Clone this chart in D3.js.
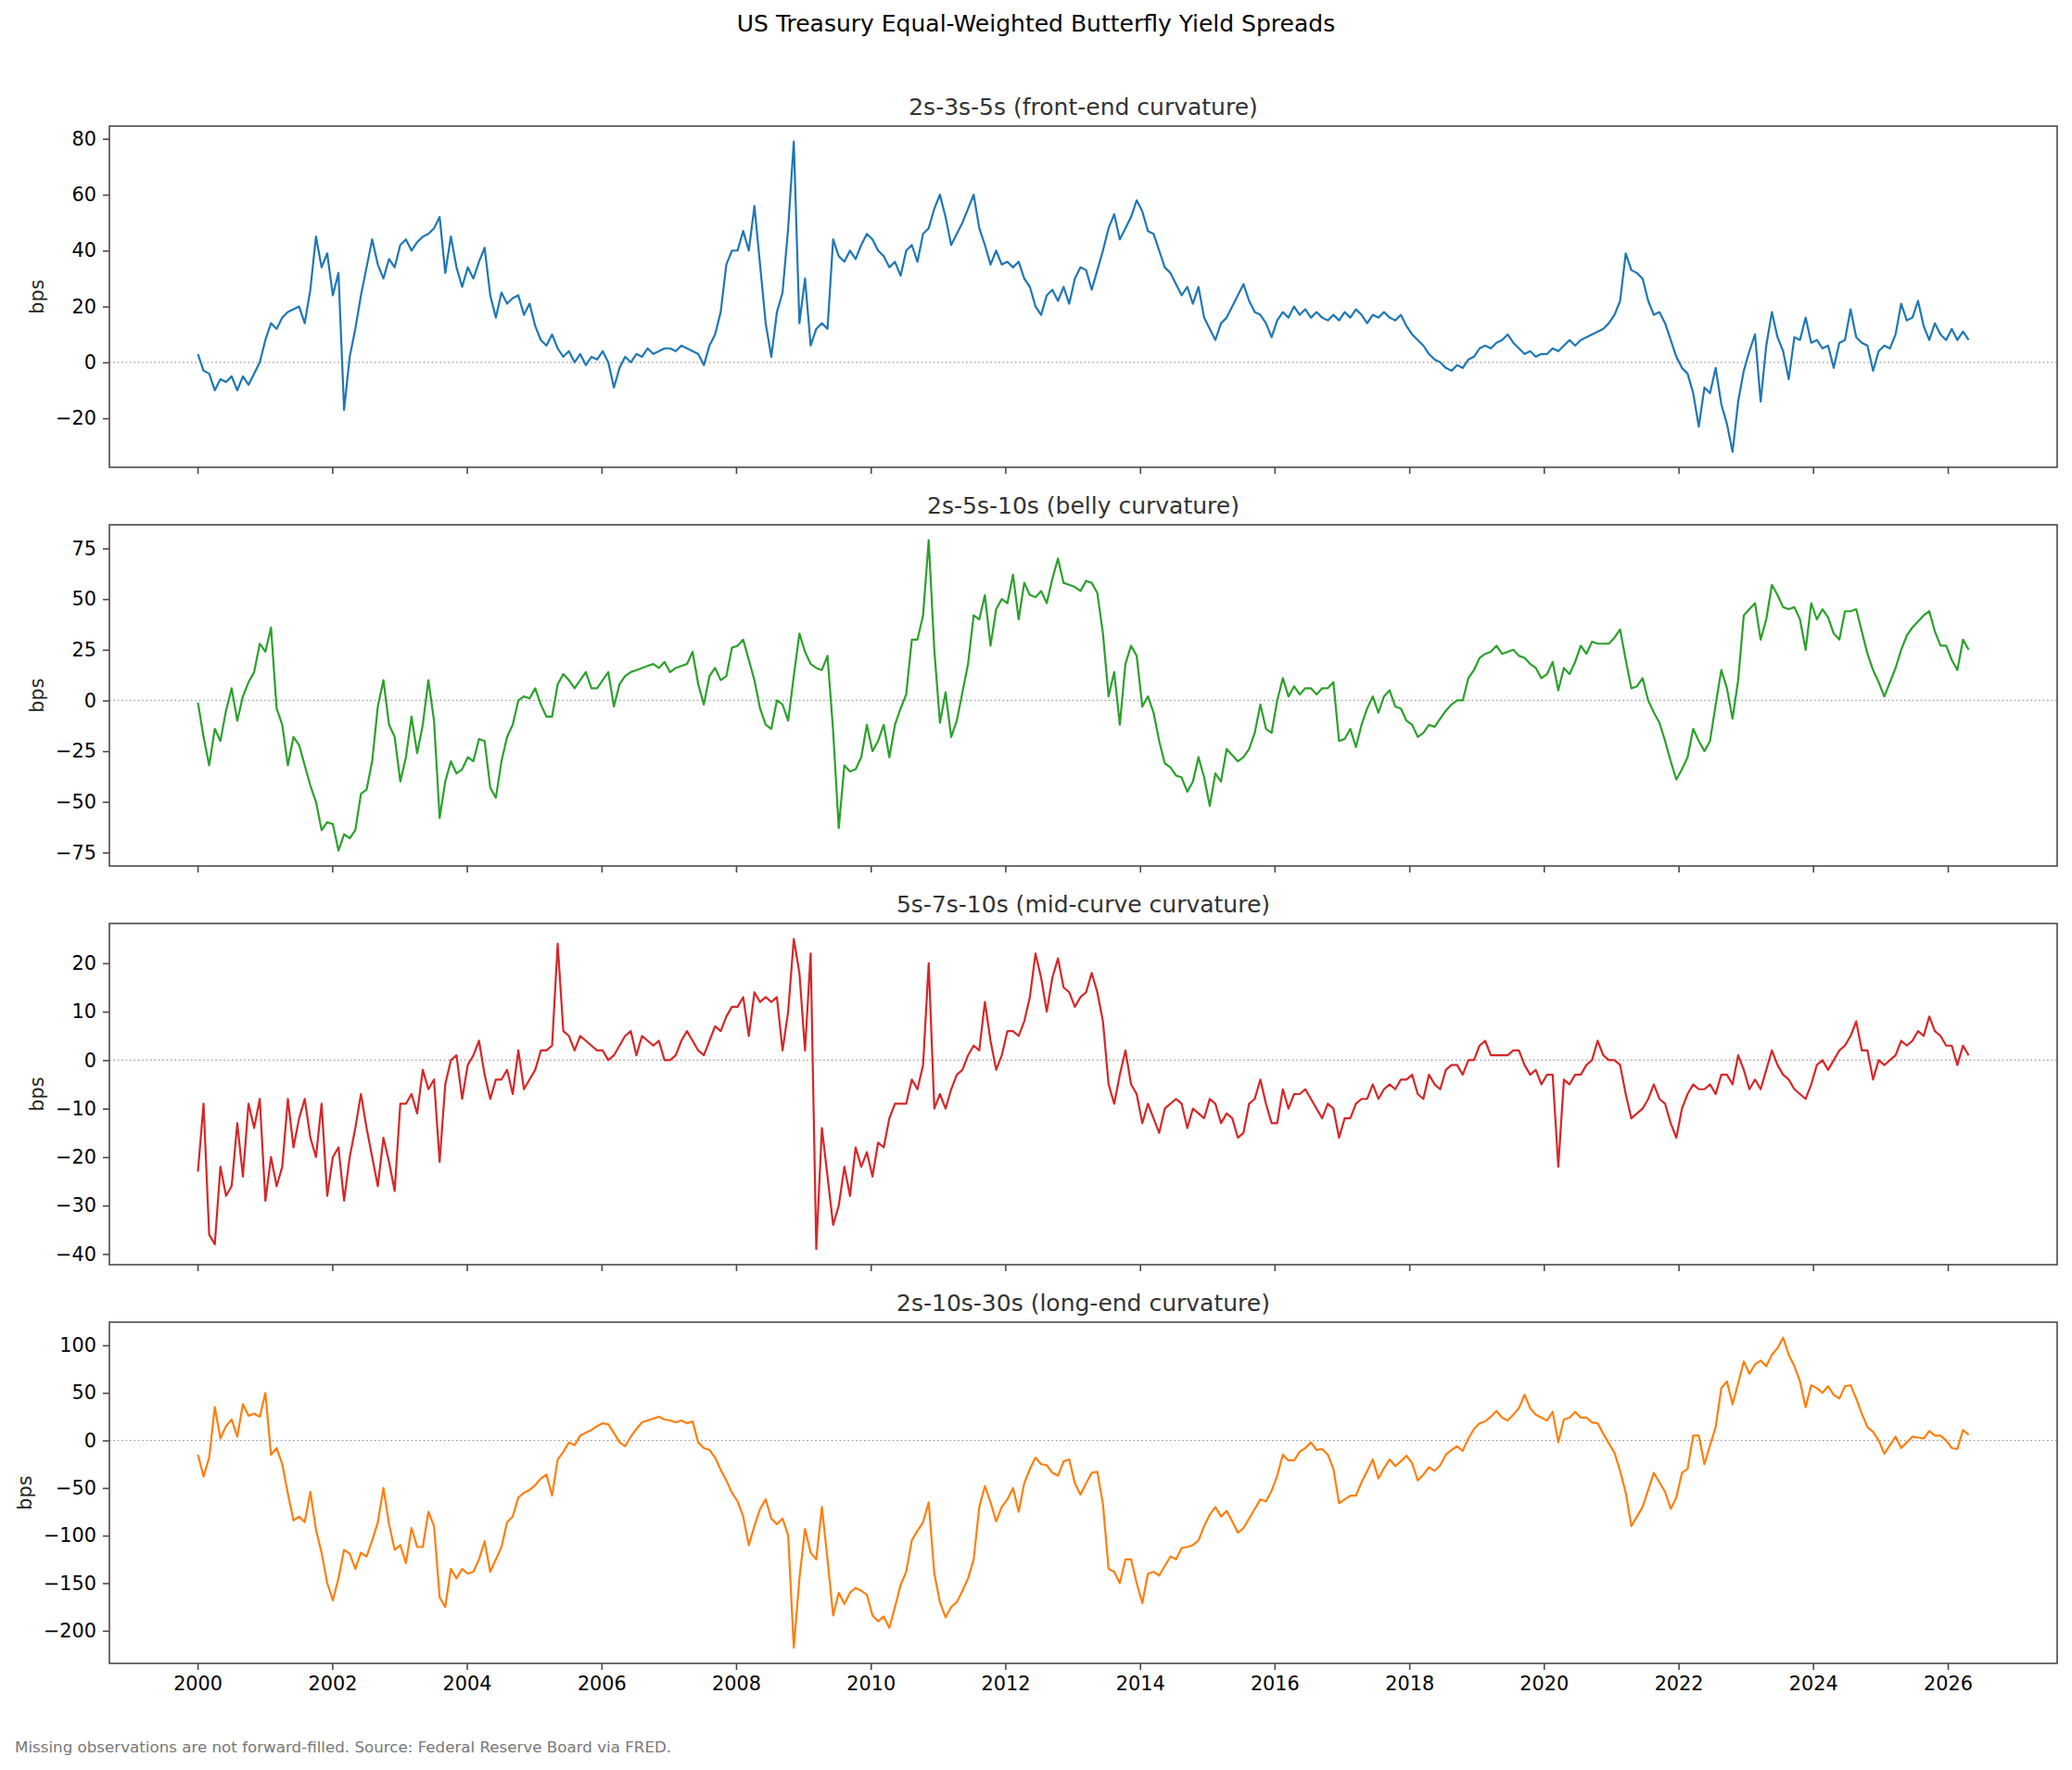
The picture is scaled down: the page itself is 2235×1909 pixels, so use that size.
<!DOCTYPE html>
<html>
<head>
<meta charset="utf-8">
<script src="https://cdn.jsdelivr.net/npm/d3@7"></script>
<style>
  html, body { margin: 0; padding: 0; background: #ffffff; }
  svg { display: block; }
  text { font-family: "DejaVu Sans", "Liberation Sans", sans-serif; }
</style>
</head>
<body>
<svg id="chart" width="2235" height="1909"></svg>
<script>
// ---------------- DATA (monthly readings, Jan 2000 .. Apr 2026, bps) ----------------
const dataStart = new Date(2000, 0, 3);
const dataEnd = new Date(2026, 3, 24);

const frontEnd = [
  3, -3, -4, -10, -6, -7, -5, -10, -5, -8, -4, 0,
  8, 14, 12, 16, 18, 19, 20, 14, 26, 45, 34, 39,
  24, 32, -17, 2, 12, 24, 34, 44, 35, 30, 37, 34,
  42, 44, 40, 43, 45, 46, 48, 52, 32, 45, 34, 27,
  34, 30, 36, 41, 24, 16, 25, 21, 23, 24, 17, 21,
  13, 8, 6, 10, 5, 2, 4, 0, 3, -1, 2, 1,
  4, 0, -9, -2, 2, 0, 3, 2, 5, 3, 4, 5,
  5, 4, 6, 5, 4, 3, -1, 6, 10, 18, 35, 40,
  40, 47, 40, 56, 35, 14, 2, 18, 25, 48, 79, 14,
  30, 6, 12, 14, 12, 44, 38, 36, 40, 37, 42, 46,
  44, 40, 38, 34, 36, 31, 40, 42, 36, 46, 48, 55,
  60, 52, 42, 46, 50, 55, 60, 48, 42, 35, 40, 35,
  36, 34, 36, 30, 27, 20, 17, 24, 26, 22, 27, 21,
  30, 34, 33, 26, 33, 40, 48, 53, 44, 48, 52, 58,
  54, 47, 46, 40, 34, 32, 28, 24, 27, 21, 27, 16,
  12, 8, 14, 16, 20, 24, 28, 22, 18, 17, 14, 9,
  15, 18, 16, 20, 17, 19, 16, 18, 16, 15, 17, 15,
  18, 16, 19, 17, 14, 17, 16, 18, 16, 15, 17, 13,
  10, 8, 6, 3, 1, 0, -2, -3, -1, -2, 1, 2,
  5, 6, 5, 7, 8, 10, 7, 5, 3, 4, 2, 3,
  3, 5, 4, 6, 8, 6, 8, 9, 10, 11, 12, 14,
  17, 22, 39, 33, 32, 30, 22, 17, 18, 14, 8, 2,
  -2, -4, -11, -23, -9, -11, -2, -15, -22, -32, -14, -3,
  4, 10, -14, 6, 18, 9, 4, -6, 9, 8, 16, 7,
  8, 5, 6, -2, 7, 8, 19, 9, 7, 6, -3, 4,
  6, 5, 10, 21, 15, 16, 22, 13, 8, 14, 10, 8,
  12, 8, 11, 8
];

const belly = [
  -1, -18, -32, -14, -20, -5, 6, -10, 2, 9, 14, 28,
  24, 36, -4, -12, -32, -18, -22, -32, -42, -50, -64, -60,
  -61, -74, -66, -68, -64, -46, -44, -30, -3, 10, -12, -18,
  -40, -28, -8, -26, -12, 10, -10, -58, -40, -30, -36, -34,
  -28, -30, -19, -20, -43, -48, -30, -18, -12, 0, 2, 1,
  6, -2, -8, -8, 8, 13, 10, 6, 10, 14, 6, 6,
  10, 14, -3, 8, 12, 14, 15, 16, 17, 18, 16, 19,
  14, 16, 17, 18, 24, 8, -2, 12, 16, 10, 12, 26,
  27, 30, 20, 10, -4, -12, -14, 0, -2, -10, 12, 33,
  24, 18, 16, 15, 22, -15, -63, -32, -35, -34, -28, -12,
  -25, -20, -12, -28, -12, -4, 3, 30, 30, 42, 79, 25,
  -11, 4, -18, -10, 4, 18, 42, 40, 52, 27, 45, 50,
  48, 62, 40, 58, 52, 51, 54, 48, 60, 70, 58, 57,
  56, 54, 59, 58, 53, 33, 2, 14, -12, 18, 27, 22,
  -3, 2, -6, -20, -31, -33, -37, -38, -45, -40, -28, -38,
  -52, -36, -40, -24, -27, -30, -28, -24, -16, -2, -14, -16,
  0, 11, 2, 7, 3, 6, 6, 3, 6, 6, 9, -20,
  -19, -14, -23, -12, -4, 2, -6, 2, 5, -3, -4, -10,
  -12, -18, -16, -12, -13, -9, -5, -2, 0, 0, 11, 15,
  21, 23, 24, 27, 23, 24, 25, 22, 21, 18, 16, 11,
  13, 19, 5, 16, 13, 19, 27, 23, 29, 28, 28, 28,
  31, 35, 20, 6, 7, 11, 0, -6, -11, -20, -30, -39,
  -34, -28, -14, -20, -25, -20, -2, 15, 6, -9, 10, 42,
  45, 48, 30, 40, 57, 52, 46, 45, 46, 40, 25, 48,
  40, 45, 41, 33, 30, 44, 44, 45, 34, 23, 15, 9,
  2, 9, 16, 25, 32, 36, 39, 42, 44, 34, 27, 27,
  20, 15, 30, 25
];

const midCurve = [
  -23, -9, -36, -38, -22, -28, -26, -13, -24, -9, -14, -8,
  -29, -20, -26, -22, -8, -18, -12, -8, -16, -20, -9, -28,
  -20, -18, -29, -20, -14, -7, -14, -20, -26, -16, -21, -27,
  -9, -9, -7, -11, -2, -6, -4, -21, -5, 0, 1, -8,
  -1, 1, 4, -3, -8, -4, -4, -2, -7, 2, -6, -4,
  -2, 2, 2, 3, 24, 6, 5, 2, 5, 4, 3, 2,
  2, 0, 1, 3, 5, 6, 1, 5, 4, 3, 4, 0,
  0, 1, 4, 6, 4, 2, 1, 4, 7, 6, 9, 11,
  11, 13, 5, 14, 12, 13, 12, 13, 2, 10, 25, 18,
  2, 22, -39, -14, -24, -34, -30, -22, -28, -18, -22, -19,
  -24, -17, -18, -12, -9, -9, -9, -4, -6, -1, 20, -10,
  -7, -10, -6, -3, -2, 1, 3, 2, 12, 4, -2, 1,
  6, 6, 5, 8, 13, 22, 17, 10, 17, 21, 15, 14,
  11, 13, 14, 18, 14, 8, -5, -9, -3, 2, -5, -7,
  -13, -9, -12, -15, -10, -9, -8, -9, -14, -10, -11, -12,
  -8, -9, -13, -11, -12, -16, -15, -9, -8, -4, -9, -13,
  -13, -6, -10, -7, -7, -6, -8, -10, -12, -9, -10, -16,
  -12, -12, -9, -8, -8, -5, -8, -6, -5, -6, -4, -4,
  -3, -7, -8, -3, -5, -6, -2, -1, -1, -3, 0, 0,
  3, 4, 1, 1, 1, 1, 2, 2, -1, -3, -2, -5,
  -3, -3, -22, -4, -5, -3, -3, -1, 0, 4, 1, 0,
  0, -1, -7, -12, -11, -10, -8, -5, -8, -9, -13, -16,
  -10, -7, -5, -6, -6, -5, -7, -3, -3, -5, 1, -2,
  -6, -4, -6, -2, 2, -1, -3, -4, -6, -7, -8, -5,
  -1, 0, -2, 0, 2, 3, 5, 8, 2, 2, -4, 0,
  -1, 0, 1, 4, 3, 4, 6, 5, 9, 6, 5, 3,
  3, -1, 3, 1
];

const longEnd = [
  -15, -38, -18, 35, 2, 15, 22, 4, 38, 26, 28, 25,
  50, -15, -8, -25, -56, -84, -80, -86, -54, -94, -118, -150,
  -168, -145, -115, -119, -135, -118, -122, -105, -86, -50, -88, -115,
  -110, -129, -92, -112, -112, -75, -90, -165, -175, -135, -145, -135,
  -140, -138, -125, -106, -138, -125, -112, -86, -80, -60, -55, -52,
  -47, -40, -36, -58, -20, -12, -2, -5, 5, 8, 11, 15,
  18, 17, 8, -2, -6, 4, 12, 19, 21, 23, 25, 22,
  21, 19, 21, 18, 20, -2, -8, -10, -18, -31, -42, -55,
  -64, -80, -110, -90, -72, -62, -82, -88, -82, -100, -218, -145,
  -93, -118, -125, -70, -125, -184, -160, -172, -160, -155, -158, -162,
  -184, -190, -185, -197, -175, -152, -138, -105, -95, -86, -65, -140,
  -170, -186, -175, -170, -158, -145, -125, -70, -48, -65, -85, -70,
  -62, -50, -75, -45, -30, -18, -25, -26, -34, -37, -22, -20,
  -45, -57, -45, -34, -33, -67, -135, -138, -150, -125, -125, -150,
  -171, -140, -138, -142, -132, -122, -125, -113, -112, -110, -105, -90,
  -78, -70, -80, -74, -85, -97, -92, -82, -72, -62, -64, -53,
  -37, -15, -21, -21, -12, -8, -2, -10, -9, -15, -30, -66,
  -62, -58, -58, -44, -32, -20, -40, -29, -20, -27, -22, -16,
  -24, -42, -36, -28, -32, -26, -15, -10, -6, -11, 2, 12,
  18, 20, 25, 31, 24, 21, 27, 34, 48, 34, 27, 24,
  21, 30, -2, 22, 24, 30, 24, 24, 19, 18, 7, -3,
  -13, -32, -55, -90, -80, -70, -52, -34, -44, -54, -72, -60,
  -34, -30, 5, 5, -25, -5, 14, 55, 62, 38, 60, 83,
  70, 80, 84, 78, 90, 97, 108, 90, 78, 62, 35, 58,
  55, 50, 57, 48, 44, 57, 58, 44, 28, 14, 9, 0,
  -14, -5, 4, -8, -2, 4, 3, 2, 10, 5, 5, 0,
  -8, -9, 11, 6
];

const panelTitles = [
  "2s-3s-5s (front-end curvature)",
  "2s-5s-10s (belly curvature)",
  "5s-7s-10s (mid-curve curvature)",
  "2s-10s-30s (long-end curvature)"
];
const yTicksFront = [-20, 0, 20, 40, 60, 80];
const yTicksBelly = [-75, -50, -25, 0, 25, 50, 75];
const yTicksMid = [-40, -30, -20, -10, 0, 10, 20];
const yTicksLong = [-200, -150, -100, -50, 0, 50, 100];
const xTickYears = [2000, 2002, 2004, 2006, 2008, 2010, 2012, 2014, 2016, 2018, 2020, 2022, 2024, 2026];
const suptitleText = "US Treasury Equal-Weighted Butterfly Yield Spreads";
const footerText = "Missing observations are not forward-filled. Source: Federal Reserve Board via FRED.";
const yLabelText = "bps";

// ---------------- LAYOUT / STYLE ----------------
const W = 2235, H = 1909;
const axLeft = 118, axRight = 2219;
const plotW = axRight - axLeft;
const plotH = 368;
const firstTop = 136, panelStep = 430;
const colors = ["#1f77b4", "#2ca02c", "#d62728", "#ff7f0e"];
const series = [frontEnd, belly, midCurve, longEnd];
const yTickSets = [yTicksFront, yTicksBelly, yTicksMid, yTicksLong];
const tickFont = 20.8, titleFont = 25, supFont = 25, footFont = 16.7;
const spineColor = "#4a4a4a";

const svg = d3.select("#chart");
svg.append("rect").attr("width", W).attr("height", H).attr("fill", "#ffffff");

const n = frontEnd.length;
const t0 = dataStart.getTime(), t1 = dataEnd.getTime();
const dates = d3.range(n).map(i => new Date(t0 + (t1 - t0) * i / (n - 1)));
const xpad = (t1 - t0) * 0.05;
const x = d3.scaleTime()
  .domain([new Date(t0 - xpad), new Date(t1 + xpad)])
  .range([0, plotW]);

const fmtNum = v => (v < 0 ? "\u2212" + Math.abs(v) : String(v));

// suptitle
svg.append("text")
  .attr("x", W / 2).attr("y", 34)
  .attr("text-anchor", "middle")
  .attr("font-size", supFont)
  .attr("fill", "#000")
  .text(suptitleText);

series.forEach((vals, i) => {
  const top = firstTop + i * panelStep;
  const g = svg.append("g").attr("transform", `translate(${axLeft},${top})`);

  const ext = d3.extent(vals);
  const ypad = (ext[1] - ext[0]) * 0.05;
  const y = d3.scaleLinear().domain([ext[0] - ypad, ext[1] + ypad]).range([plotH, 0]);

  // zero reference line
  g.append("line")
    .attr("x1", 0).attr("x2", plotW)
    .attr("y1", y(0)).attr("y2", y(0))
    .attr("stroke", "#9a9a9a")
    .attr("stroke-width", 1.3)
    .attr("stroke-dasharray", "1.6,2.8");

  // series line
  const line = d3.line()
    .x((d, k) => x(dates[k]))
    .y(d => y(d));
  g.append("path")
    .datum(vals)
    .attr("d", line)
    .attr("fill", "none")
    .attr("stroke", colors[i])
    .attr("stroke-width", 2.2)
    .attr("stroke-linejoin", "round");

  // y axis
  const yAxis = g.append("g")
    .call(d3.axisLeft(y).tickValues(yTickSets[i]).tickSize(7).tickPadding(7).tickFormat(fmtNum));
  yAxis.select(".domain").remove();
  yAxis.selectAll(".tick line").attr("stroke", spineColor).attr("stroke-width", 1.6);
  yAxis.selectAll(".tick text")
    .attr("font-size", tickFont)
    .attr("font-family", '"DejaVu Sans", sans-serif')
    .attr("fill", "#000");

  // x axis
  const xAxis = g.append("g")
    .attr("transform", `translate(0,${plotH})`)
    .call(d3.axisBottom(x)
      .tickValues(xTickYears.map(yr => new Date(yr, 0, 1)))
      .tickSize(7).tickPadding(7)
      .tickFormat(d => (i === series.length - 1 ? d3.timeFormat("%Y")(d) : "")));
  xAxis.select(".domain").remove();
  xAxis.selectAll(".tick line").attr("stroke", spineColor).attr("stroke-width", 1.6);
  xAxis.selectAll(".tick text")
    .attr("font-size", tickFont)
    .attr("font-family", '"DejaVu Sans", sans-serif')
    .attr("fill", "#000");

  // frame
  g.append("rect")
    .attr("x", 0).attr("y", 0)
    .attr("width", plotW).attr("height", plotH)
    .attr("fill", "none")
    .attr("stroke", spineColor)
    .attr("stroke-width", 1.6);

  // title
  g.append("text")
    .attr("x", plotW / 2).attr("y", -12)
    .attr("text-anchor", "middle")
    .attr("font-size", titleFont)
    .attr("fill", "#333")
    .text(panelTitles[i]);

  // y label positioned left of widest tick label
  let minX = 0;
  yAxis.selectAll(".tick text").each(function () {
    const b = this.getBBox();
    const tr = this.parentNode.transform.baseVal.consolidate();
    const ox = tr ? tr.matrix.e : 0;
    minX = Math.min(minX, ox + b.x);
  });
  const lx = minX - 8 - tickFont * 0.24;
  g.append("text")
    .attr("transform", `translate(${lx},${plotH / 2}) rotate(-90)`)
    .attr("text-anchor", "middle")
    .attr("font-size", tickFont)
    .attr("fill", "#222")
    .text(yLabelText);
});

// footer
svg.append("text")
  .attr("x", 16).attr("y", 1890)
  .attr("font-size", footFont)
  .attr("fill", "#777")
  .text(footerText);
</script>
</body>
</html>
